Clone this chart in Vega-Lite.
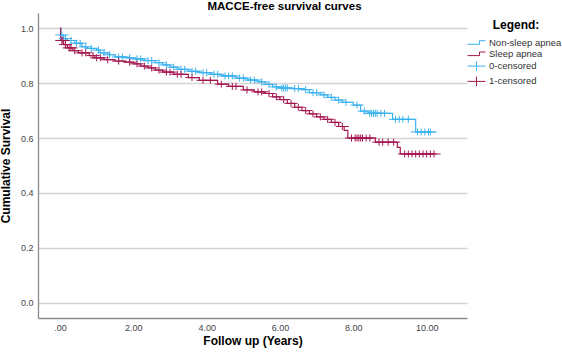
{
  "$schema": "https://vega.github.io/schema/vega-lite/v6.json",
  "width": 429,
  "height": 305,
  "autosize": {"type": "none"},
  "padding": {"left": 38, "top": 13, "right": 95, "bottom": 39},
  "background": "white",
  "title": {"text": "MACCE-free survival curves", "fontSize": 11.5, "font": "Liberation Sans", "fontWeight": "bold", "color": "#000000", "anchor": "middle", "dx": 32, "offset": 1},
  "config": {
    "view": {"stroke": null},
    "font": "Liberation Sans",
    "legend": {
      "orient": "none", "legendX": 432, "legendY": 7, "padding": 0,
      "titleFontSize": 12, "titleFontWeight": "bold", "titleColor": "#000000", "titleAnchor": "middle", "titlePadding": 4,
      "labelFontSize": 9.5, "labelColor": "#333333", "labelOffset": 6,
      "symbolSize": 144, "symbolStrokeWidth": 1, "rowPadding": 0.3
    }
  },
  "datasets": {
    "curve": [
      {"t": 0, "s": 1.0, "legend": "Non-sleep apnea"}, {"t": 0.02, "s": 0.975, "legend": "Non-sleep apnea"}, {"t": 0.1, "s": 0.962, "legend": "Non-sleep apnea"}, {"t": 0.2, "s": 0.955, "legend": "Non-sleep apnea"}, {"t": 0.4, "s": 0.945, "legend": "Non-sleep apnea"}, {"t": 0.6, "s": 0.932, "legend": "Non-sleep apnea"}, {"t": 0.75, "s": 0.926, "legend": "Non-sleep apnea"}, {"t": 1.0, "s": 0.92, "legend": "Non-sleep apnea"}, {"t": 1.1, "s": 0.91, "legend": "Non-sleep apnea"}, {"t": 1.3, "s": 0.903, "legend": "Non-sleep apnea"}, {"t": 1.5, "s": 0.895, "legend": "Non-sleep apnea"}, {"t": 1.8, "s": 0.892, "legend": "Non-sleep apnea"}, {"t": 2.0, "s": 0.888, "legend": "Non-sleep apnea"}, {"t": 2.3, "s": 0.882, "legend": "Non-sleep apnea"}, {"t": 2.6, "s": 0.874, "legend": "Non-sleep apnea"}, {"t": 2.8, "s": 0.866, "legend": "Non-sleep apnea"}, {"t": 3.0, "s": 0.858, "legend": "Non-sleep apnea"}, {"t": 3.2, "s": 0.85, "legend": "Non-sleep apnea"}, {"t": 3.5, "s": 0.843, "legend": "Non-sleep apnea"}, {"t": 3.8, "s": 0.838, "legend": "Non-sleep apnea"}, {"t": 4.1, "s": 0.832, "legend": "Non-sleep apnea"}, {"t": 4.4, "s": 0.826, "legend": "Non-sleep apnea"}, {"t": 4.8, "s": 0.818, "legend": "Non-sleep apnea"}, {"t": 5.1, "s": 0.811, "legend": "Non-sleep apnea"}, {"t": 5.4, "s": 0.804, "legend": "Non-sleep apnea"}, {"t": 5.6, "s": 0.795, "legend": "Non-sleep apnea"}, {"t": 5.8, "s": 0.786, "legend": "Non-sleep apnea"}, {"t": 6.0, "s": 0.782, "legend": "Non-sleep apnea"}, {"t": 6.3, "s": 0.78, "legend": "Non-sleep apnea"}, {"t": 6.6, "s": 0.776, "legend": "Non-sleep apnea"}, {"t": 6.8, "s": 0.765, "legend": "Non-sleep apnea"}, {"t": 7.1, "s": 0.757, "legend": "Non-sleep apnea"}, {"t": 7.3, "s": 0.748, "legend": "Non-sleep apnea"}, {"t": 7.5, "s": 0.738, "legend": "Non-sleep apnea"}, {"t": 7.7, "s": 0.73, "legend": "Non-sleep apnea"}, {"t": 8.0, "s": 0.72, "legend": "Non-sleep apnea"}, {"t": 8.2, "s": 0.698, "legend": "Non-sleep apnea"}, {"t": 8.4, "s": 0.69, "legend": "Non-sleep apnea"}, {"t": 9.07, "s": 0.668, "legend": "Non-sleep apnea"}, {"t": 9.7, "s": 0.622, "legend": "Non-sleep apnea"}, {"t": 10.1, "s": 0.622, "legend": "Non-sleep apnea"},
      {"t": 0, "s": 1.0, "legend": "Sleep apnea"}, {"t": 0.02, "s": 0.955, "legend": "Sleep apnea"}, {"t": 0.1, "s": 0.94, "legend": "Sleep apnea"}, {"t": 0.2, "s": 0.928, "legend": "Sleep apnea"}, {"t": 0.35, "s": 0.918, "legend": "Sleep apnea"}, {"t": 0.5, "s": 0.91, "legend": "Sleep apnea"}, {"t": 0.8, "s": 0.9, "legend": "Sleep apnea"}, {"t": 0.95, "s": 0.892, "legend": "Sleep apnea"}, {"t": 1.2, "s": 0.885, "legend": "Sleep apnea"}, {"t": 1.5, "s": 0.88, "legend": "Sleep apnea"}, {"t": 1.8, "s": 0.876, "legend": "Sleep apnea"}, {"t": 2.0, "s": 0.87, "legend": "Sleep apnea"}, {"t": 2.2, "s": 0.862, "legend": "Sleep apnea"}, {"t": 2.4, "s": 0.855, "legend": "Sleep apnea"}, {"t": 2.6, "s": 0.847, "legend": "Sleep apnea"}, {"t": 2.8, "s": 0.84, "legend": "Sleep apnea"}, {"t": 3.1, "s": 0.832, "legend": "Sleep apnea"}, {"t": 3.5, "s": 0.82, "legend": "Sleep apnea"}, {"t": 3.8, "s": 0.81, "legend": "Sleep apnea"}, {"t": 4.3, "s": 0.796, "legend": "Sleep apnea"}, {"t": 4.6, "s": 0.788, "legend": "Sleep apnea"}, {"t": 5.0, "s": 0.775, "legend": "Sleep apnea"}, {"t": 5.3, "s": 0.768, "legend": "Sleep apnea"}, {"t": 5.6, "s": 0.762, "legend": "Sleep apnea"}, {"t": 5.8, "s": 0.75, "legend": "Sleep apnea"}, {"t": 6.0, "s": 0.74, "legend": "Sleep apnea"}, {"t": 6.2, "s": 0.726, "legend": "Sleep apnea"}, {"t": 6.4, "s": 0.712, "legend": "Sleep apnea"}, {"t": 6.6, "s": 0.7, "legend": "Sleep apnea"}, {"t": 6.8, "s": 0.688, "legend": "Sleep apnea"}, {"t": 7.0, "s": 0.677, "legend": "Sleep apnea"}, {"t": 7.2, "s": 0.668, "legend": "Sleep apnea"}, {"t": 7.4, "s": 0.657, "legend": "Sleep apnea"}, {"t": 7.6, "s": 0.642, "legend": "Sleep apnea"}, {"t": 7.75, "s": 0.628, "legend": "Sleep apnea"}, {"t": 7.85, "s": 0.6, "legend": "Sleep apnea"}, {"t": 8.6, "s": 0.585, "legend": "Sleep apnea"}, {"t": 9.2, "s": 0.566, "legend": "Sleep apnea"}, {"t": 9.28, "s": 0.542, "legend": "Sleep apnea"}, {"t": 10.2, "s": 0.542, "legend": "Sleep apnea"}
    ],
    "censor": [
      {"t": 0.05, "s": 0.975, "legend": "0-censored"}, {"t": 0.15, "s": 0.962, "legend": "0-censored"}, {"t": 0.3, "s": 0.955, "legend": "0-censored"}, {"t": 0.45, "s": 0.945, "legend": "0-censored"}, {"t": 0.55, "s": 0.945, "legend": "0-censored"}, {"t": 0.7, "s": 0.932, "legend": "0-censored"}, {"t": 0.85, "s": 0.926, "legend": "0-censored"}, {"t": 1.05, "s": 0.92, "legend": "0-censored"}, {"t": 1.2, "s": 0.91, "legend": "0-censored"}, {"t": 1.35, "s": 0.903, "legend": "0-censored"}, {"t": 1.6, "s": 0.895, "legend": "0-censored"}, {"t": 1.7, "s": 0.895, "legend": "0-censored"}, {"t": 1.9, "s": 0.892, "legend": "0-censored"}, {"t": 2.1, "s": 0.888, "legend": "0-censored"}, {"t": 2.2, "s": 0.888, "legend": "0-censored"}, {"t": 2.4, "s": 0.882, "legend": "0-censored"}, {"t": 2.5, "s": 0.882, "legend": "0-censored"}, {"t": 2.7, "s": 0.874, "legend": "0-censored"}, {"t": 2.9, "s": 0.866, "legend": "0-censored"}, {"t": 3.1, "s": 0.858, "legend": "0-censored"}, {"t": 3.3, "s": 0.85, "legend": "0-censored"}, {"t": 3.4, "s": 0.85, "legend": "0-censored"}, {"t": 3.6, "s": 0.843, "legend": "0-censored"}, {"t": 3.7, "s": 0.843, "legend": "0-censored"}, {"t": 3.9, "s": 0.838, "legend": "0-censored"}, {"t": 4.0, "s": 0.838, "legend": "0-censored"}, {"t": 4.2, "s": 0.832, "legend": "0-censored"}, {"t": 4.3, "s": 0.832, "legend": "0-censored"}, {"t": 4.5, "s": 0.826, "legend": "0-censored"}, {"t": 4.6, "s": 0.826, "legend": "0-censored"}, {"t": 4.7, "s": 0.826, "legend": "0-censored"}, {"t": 4.9, "s": 0.818, "legend": "0-censored"}, {"t": 5.0, "s": 0.818, "legend": "0-censored"}, {"t": 5.2, "s": 0.811, "legend": "0-censored"}, {"t": 5.3, "s": 0.811, "legend": "0-censored"}, {"t": 5.5, "s": 0.804, "legend": "0-censored"}, {"t": 5.7, "s": 0.795, "legend": "0-censored"}, {"t": 5.9, "s": 0.786, "legend": "0-censored"}, {"t": 6.05, "s": 0.782, "legend": "0-censored"}, {"t": 6.1, "s": 0.782, "legend": "0-censored"}, {"t": 6.15, "s": 0.782, "legend": "0-censored"}, {"t": 6.2, "s": 0.782, "legend": "0-censored"}, {"t": 6.4, "s": 0.78, "legend": "0-censored"}, {"t": 6.5, "s": 0.78, "legend": "0-censored"}, {"t": 6.7, "s": 0.776, "legend": "0-censored"}, {"t": 6.9, "s": 0.765, "legend": "0-censored"}, {"t": 7.0, "s": 0.765, "legend": "0-censored"}, {"t": 7.2, "s": 0.757, "legend": "0-censored"}, {"t": 7.4, "s": 0.748, "legend": "0-censored"}, {"t": 7.6, "s": 0.738, "legend": "0-censored"}, {"t": 7.8, "s": 0.73, "legend": "0-censored"}, {"t": 8.1, "s": 0.72, "legend": "0-censored"}, {"t": 8.3, "s": 0.698, "legend": "0-censored"}, {"t": 8.45, "s": 0.69, "legend": "0-censored"}, {"t": 8.5, "s": 0.69, "legend": "0-censored"}, {"t": 8.55, "s": 0.69, "legend": "0-censored"}, {"t": 8.6, "s": 0.69, "legend": "0-censored"}, {"t": 8.65, "s": 0.69, "legend": "0-censored"}, {"t": 8.75, "s": 0.69, "legend": "0-censored"}, {"t": 8.85, "s": 0.69, "legend": "0-censored"}, {"t": 9.15, "s": 0.668, "legend": "0-censored"}, {"t": 9.25, "s": 0.668, "legend": "0-censored"}, {"t": 9.35, "s": 0.668, "legend": "0-censored"}, {"t": 9.5, "s": 0.668, "legend": "0-censored"}, {"t": 9.75, "s": 0.622, "legend": "0-censored"}, {"t": 9.85, "s": 0.622, "legend": "0-censored"}, {"t": 9.95, "s": 0.622, "legend": "0-censored"}, {"t": 10.05, "s": 0.622, "legend": "0-censored"}, {"t": 10.1, "s": 0.622, "legend": "0-censored"},
      {"t": 0.05, "s": 0.955, "legend": "1-censored"}, {"t": 0.08, "s": 0.955, "legend": "1-censored"}, {"t": 0.15, "s": 0.94, "legend": "1-censored"}, {"t": 0.25, "s": 0.928, "legend": "1-censored"}, {"t": 0.3, "s": 0.928, "legend": "1-censored"}, {"t": 0.4, "s": 0.918, "legend": "1-censored"}, {"t": 0.6, "s": 0.91, "legend": "1-censored"}, {"t": 0.7, "s": 0.91, "legend": "1-censored"}, {"t": 0.9, "s": 0.9, "legend": "1-censored"}, {"t": 1.0, "s": 0.892, "legend": "1-censored"}, {"t": 1.1, "s": 0.892, "legend": "1-censored"}, {"t": 1.3, "s": 0.885, "legend": "1-censored"}, {"t": 1.6, "s": 0.88, "legend": "1-censored"}, {"t": 1.9, "s": 0.876, "legend": "1-censored"}, {"t": 2.1, "s": 0.87, "legend": "1-censored"}, {"t": 2.3, "s": 0.862, "legend": "1-censored"}, {"t": 2.5, "s": 0.855, "legend": "1-censored"}, {"t": 2.7, "s": 0.847, "legend": "1-censored"}, {"t": 2.9, "s": 0.84, "legend": "1-censored"}, {"t": 3.0, "s": 0.84, "legend": "1-censored"}, {"t": 3.2, "s": 0.832, "legend": "1-censored"}, {"t": 3.3, "s": 0.832, "legend": "1-censored"}, {"t": 3.6, "s": 0.82, "legend": "1-censored"}, {"t": 3.9, "s": 0.81, "legend": "1-censored"}, {"t": 4.1, "s": 0.81, "legend": "1-censored"}, {"t": 4.4, "s": 0.796, "legend": "1-censored"}, {"t": 4.7, "s": 0.788, "legend": "1-censored"}, {"t": 4.8, "s": 0.788, "legend": "1-censored"}, {"t": 5.1, "s": 0.775, "legend": "1-censored"}, {"t": 5.4, "s": 0.768, "legend": "1-censored"}, {"t": 5.5, "s": 0.768, "legend": "1-censored"}, {"t": 5.7, "s": 0.762, "legend": "1-censored"}, {"t": 5.9, "s": 0.75, "legend": "1-censored"}, {"t": 6.1, "s": 0.74, "legend": "1-censored"}, {"t": 6.3, "s": 0.726, "legend": "1-censored"}, {"t": 6.5, "s": 0.712, "legend": "1-censored"}, {"t": 6.7, "s": 0.7, "legend": "1-censored"}, {"t": 6.9, "s": 0.688, "legend": "1-censored"}, {"t": 7.1, "s": 0.677, "legend": "1-censored"}, {"t": 7.3, "s": 0.668, "legend": "1-censored"}, {"t": 7.5, "s": 0.657, "legend": "1-censored"}, {"t": 7.7, "s": 0.642, "legend": "1-censored"}, {"t": 7.95, "s": 0.6, "legend": "1-censored"}, {"t": 8.05, "s": 0.6, "legend": "1-censored"}, {"t": 8.1, "s": 0.6, "legend": "1-censored"}, {"t": 8.15, "s": 0.6, "legend": "1-censored"}, {"t": 8.2, "s": 0.6, "legend": "1-censored"}, {"t": 8.25, "s": 0.6, "legend": "1-censored"}, {"t": 8.35, "s": 0.6, "legend": "1-censored"}, {"t": 8.45, "s": 0.6, "legend": "1-censored"}, {"t": 8.7, "s": 0.585, "legend": "1-censored"}, {"t": 8.8, "s": 0.585, "legend": "1-censored"}, {"t": 8.95, "s": 0.585, "legend": "1-censored"}, {"t": 9.1, "s": 0.585, "legend": "1-censored"}, {"t": 9.4, "s": 0.542, "legend": "1-censored"}, {"t": 9.5, "s": 0.542, "legend": "1-censored"}, {"t": 9.6, "s": 0.542, "legend": "1-censored"}, {"t": 9.7, "s": 0.542, "legend": "1-censored"}, {"t": 9.8, "s": 0.542, "legend": "1-censored"}, {"t": 9.9, "s": 0.542, "legend": "1-censored"}, {"t": 10.0, "s": 0.542, "legend": "1-censored"}, {"t": 10.1, "s": 0.542, "legend": "1-censored"}, {"t": 10.2, "s": 0.542, "legend": "1-censored"}
    ]
  },
  "layer": [
    {
      "data": {"name": "curve"},
      "mark": {"type": "line", "interpolate": "step-after", "strokeWidth": 1.2},
      "encoding": {
        "x": {
          "field": "t", "type": "quantitative",
          "scale": {"domain": [-0.6, 11.1], "nice": false, "zero": false},
          "axis": {
            "title": "Follow up (Years)", "values": [0, 2, 4, 6, 8, 10],
            "labelExpr": "datum.value === 0 ? '.00' : format(datum.value, '.2f')",
            "grid": false, "ticks": false, "labelPadding": 5, "labelFontSize": 9, "labelColor": "#444444",
            "domainColor": "#8a8a8a", "domainWidth": 1.3,
            "titleFontSize": 12, "titleFontWeight": "bold", "titleColor": "#000000", "titlePadding": 3
          }
        },
        "y": {
          "field": "s", "type": "quantitative",
          "scale": {"domain": [-0.055, 1.055], "nice": false, "zero": false},
          "axis": {
            "title": "Cumulative Survival", "values": [0, 0.2, 0.4, 0.6, 0.8, 1.0], "format": ".1f",
            "grid": true, "gridColor": "#d4d4d4", "gridWidth": 1.3,
            "ticks": false, "labelPadding": 5, "labelFontSize": 9, "labelColor": "#444444",
            "domainColor": "#8a8a8a", "domainWidth": 1.3,
            "titleFontSize": 12, "titleFontWeight": "bold", "titleColor": "#000000", "titlePadding": 8
          }
        },
        "color": {
          "field": "legend", "type": "nominal", "title": "Legend:",
          "scale": {"domain": ["Non-sleep apnea", "Sleep apnea", "0-censored", "1-censored"], "range": ["#3cb2ee", "#a3174f", "#3cb2ee", "#a3174f"]}
        }
      }
    },
    {
      "data": {"name": "censor"},
      "mark": {"type": "point", "filled": false, "size": 77, "strokeWidth": 1, "opacity": 1},
      "encoding": {
        "x": {"field": "t", "type": "quantitative"},
        "y": {"field": "s", "type": "quantitative"},
        "color": {"field": "legend", "type": "nominal", "title": "Legend:"},
        "shape": {
          "field": "legend", "type": "nominal", "title": "Legend:",
          "scale": {"domain": ["Non-sleep apnea", "Sleep apnea", "0-censored", "1-censored"], "range": ["M-1.5,0.3H0.5V-0.3H1.5", "M-1.5,0.3H0.5V-0.3H1.5", "M-1.5,0H1.5M0,-0.8V0.8", "M-1.5,0H1.5M0,-0.8V0.8"]}
        }
      }
    }
  ]
}
